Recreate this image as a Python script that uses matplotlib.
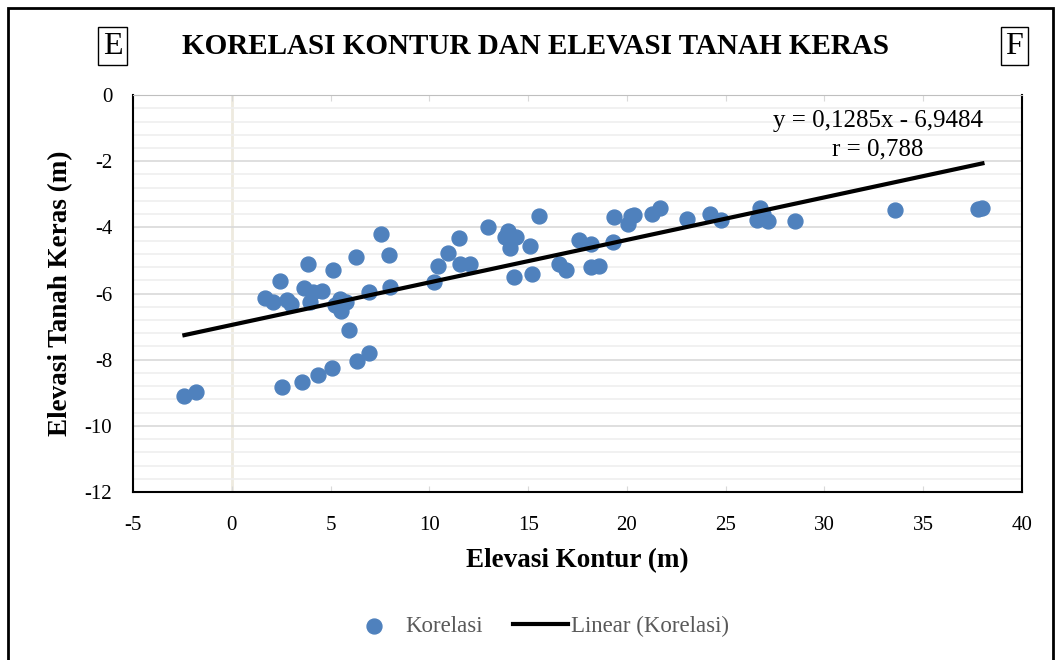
import matplotlib.pyplot as plt
from matplotlib.patches import Rectangle
import numpy as np

# data (Elevasi Kontur, Elevasi Tanah Keras)
kontur = [-2.4, -1.8, 1.67, 2.07, 2.43, 2.53, 2.78, 2.98, 3.54, 3.64, 3.85, 3.95,
          4.1, 4.35, 4.55, 5.06, 5.11, 5.21, 5.47, 5.52, 5.77, 5.92, 6.33, 6.28,
          6.93, 6.93, 7.54, 7.95, 8.0, 10.22, 10.43, 10.93, 11.5, 11.54, 12.05,
          12.96, 13.82, 14.0, 14.07, 14.27, 14.37, 15.08, 15.18, 15.54, 16.55,
          16.9, 17.6, 18.17, 18.2, 18.6, 19.3, 19.33, 20.04, 20.19, 20.34, 21.26,
          21.66, 23.03, 24.19, 24.75, 26.57, 26.72, 26.87, 27.13, 28.49, 33.55,
          37.75, 38.0]
tanah = [-9.1, -8.98, -6.14, -6.26, -5.62, -8.83, -6.2, -6.32, -8.68, -5.83, -5.11,
         -6.26, -5.96, -8.46, -5.92, -8.25, -5.29, -6.35, -6.17, -6.53, -6.26, -7.1,
         -8.04, -4.9, -7.8, -5.96, -4.2, -4.84, -5.8, -5.65, -5.17, -4.78, -4.32,
         -5.11, -5.11, -3.99, -4.29, -4.1, -4.62, -5.5, -4.29, -4.56, -5.41, -3.66,
         -5.11, -5.29, -4.38, -4.5, -5.2, -5.17, -4.44, -3.69, -3.9, -3.66, -3.63,
         -3.6, -3.42, -3.75, -3.6, -3.78, -3.78, -3.42, -3.6, -3.81, -3.81, -3.48,
         -3.45, -3.42]
slope = 0.1285
intercept = -6.9484

plt.rcParams['font.family'] = ['Liberation Serif', 'DejaVu Serif']
plt.rcParams['axes.unicode_minus'] = False

fig = plt.figure(figsize=(10.61, 6.6), dpi=100)
ax = fig.add_axes([0.1254, 0.2545, 0.8378, 0.6015])

# gridlines
ax.set_ylim(-12, 0)
ax.set_xlim(-5, 40)
ax.set_yticks(np.arange(-12, 0.1, 2))
ax.set_yticks(np.arange(-12, 0.01, 0.4), minor=True)
ax.set_xticks(np.arange(-5, 41, 5))
ax.grid(axis='y', which='major', color='#d9d9d9', lw=1.2, zorder=0)
ax.grid(axis='y', which='minor', color='#efefef', lw=1.2, zorder=0)
ax.axvline(0, color='#eeeadf', lw=2, zorder=0)

ax.scatter(kontur, tanah, s=115, color='#4f81bd', zorder=3, label='Korelasi')
xf = np.array([min(kontur), max(kontur)])
ax.plot(xf, slope * xf + intercept, color='black', lw=3, zorder=4,
        label='Linear (Korelasi)')

for s in ['left', 'bottom', 'right']:
    ax.spines[s].set_color('black')
    ax.spines[s].set_linewidth(1.5)
ax.spines['top'].set_color('#bfbfbf')
ax.tick_params(axis='both', which='both', length=0, labelsize=15)
ax.tick_params(axis='y', pad=15)
ax.tick_params(axis='x', pad=17)
ax.tick_params(top=True, which='major', length=4, direction='in', color='#d9d9d9',
               labeltop=False)

ax.set_xlabel('Elevasi Kontur (m)', fontsize=19.5, fontweight='bold', labelpad=10)
ax.set_ylabel('Elevasi Tanah Keras (m)', fontsize=19.5, fontweight='bold', labelpad=8)

ax.text(0.838, 0.962, 'y = 0,1285x - 6,9484\nr = 0,788', transform=ax.transAxes,
        fontsize=18, ha='center', va='top', linespacing=1.35)

fig.text(0.505, 0.93, 'KORELASI KONTUR DAN ELEVASI TANAH KERAS', fontsize=21,
         fontweight='bold', ha='center', va='center')
for xpos, lbl in [(0.106, 'E', ), (0.956, 'F')]:
    fig.text(xpos, 0.93, lbl, fontsize=23, ha='center', va='center',
             bbox=dict(boxstyle='square,pad=0.15', fc='white', ec='black', lw=1))

fig.legend(loc='center', bbox_to_anchor=(0.507, 0.051), ncol=2, frameon=False,
           fontsize=16.5, labelcolor='#595959', handlelength=2.4,
           handletextpad=0.15, columnspacing=1.3)

fig.add_artist(Rectangle((0.008, -0.02), 0.984, 1.008, transform=fig.transFigure,
                         fill=False, ec='black', lw=2))

fig.savefig('out.png', dpi=100)
